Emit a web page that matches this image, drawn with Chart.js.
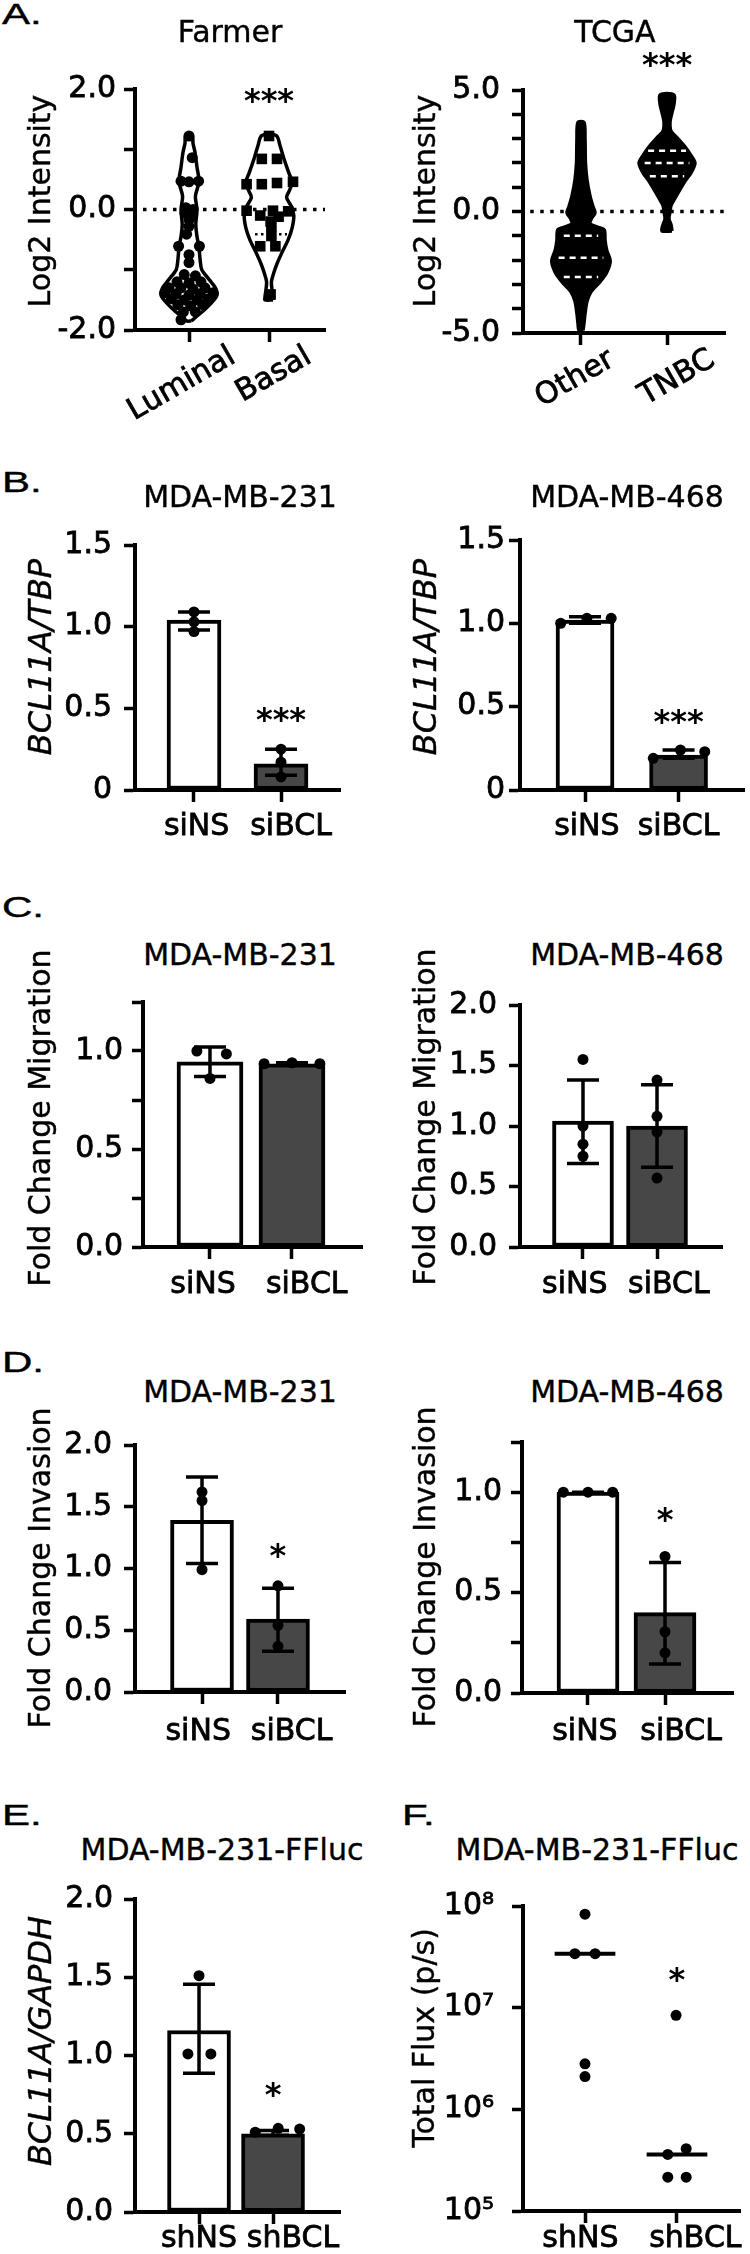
<!DOCTYPE html>
<html>
<head>
<meta charset="utf-8">
<title>BCL11A panels</title>
<script src="https://cdn.jsdelivr.net/npm/chart.js@4.4.1/dist/chart.umd.min.js"></script>
<style>
  html, body { margin: 0; padding: 0; background: #fff; }
  body { position: relative; width: 750px; height: 2254px; overflow: hidden; font-family: "DejaVu Sans", sans-serif; color: #000; }
  canvas { position: absolute; }
  .title, .ytitle, .letter { -webkit-text-stroke: 0.4px #000; }
  .title { position: absolute; width: 360px; height: 40px; line-height: 40px; font-size: 30px; text-align: center; white-space: nowrap; }
  .ytitle { position: absolute; width: 400px; height: 40px; line-height: 40px; font-size: 30px; text-align: center; white-space: nowrap; transform: rotate(-90deg); }
  .ytitle.it { font-style: italic; font-size: 32px; }
  .letter { position: absolute; height: 40px; line-height: 40px; font-family: "Liberation Sans", sans-serif; font-size: 29px; transform: scaleX(1.45); transform-origin: 0 50%; white-space: nowrap; }
</style>
</head>
<body>
<script>
const FONT = "'DejaVu Sans', sans-serif";

// ---------- A. violin plots (Log2 intensity) ----------
const farmerGroups = ['Luminal', 'Basal'];
const farmerTicks = [-2, -1, 0, 1, 2];
const farmerTickText = ['-2.0', '', '0.0', '', '2.0'];
// outline: value, half width (category units)
const luminalY    = [-1.85, -1.78, -1.68, -1.55, -1.42, -1.3, -1.16, -1.0, -0.85, -0.63, -0.45, -0.25, 0.0, 0.22, 0.46, 0.7, 0.95, 1.1, 1.23];
const luminalHalf = [0.03, 0.09, 0.18, 0.28, 0.35, 0.33, 0.25, 0.16, 0.14, 0.125, 0.1, 0.085, 0.1, 0.08, 0.125, 0.1, 0.075, 0.05, 0.04];
const basalY      = [-1.5, -1.45, -1.35, -1.2, -1.05, -0.9, -0.72, -0.5, -0.3, -0.1, 0.05, 0.2, 0.3, 0.45, 0.6, 0.83, 1.05, 1.23];
const basalHalf   = [0.05, 0.05, 0.04, 0.03, 0.06, 0.1, 0.16, 0.24, 0.29, 0.31, 0.28, 0.22, 0.25, 0.29, 0.25, 0.19, 0.14, 0.09];
const luminalVals = [1.22, 0.86, 0.47, 0.46, 0.47, 0.03, 0.0, -0.06, -0.12, -0.17, -0.28, -0.41, -0.61, -0.61, -0.75, -0.88, -1.08, -1.1,
  -1.2, -1.22, -1.2, -1.3, -1.3, -1.32, -1.3, -1.38, -1.4, -1.42, -1.4, -1.38, -1.48, -1.5, -1.5, -1.48, -1.58, -1.6, -1.58, -1.7, -1.7, -1.83];
const luminalSpread = [0, 0.04, -0.1, 0, 0.12, -0.04, 0.05, -0.05, 0.04, 0, 0, -0.03, -0.13, 0.13, 0, 0, -0.06, 0.08,
  -0.15, 0, 0.15, -0.25, -0.1, 0.05, 0.2, -0.3, -0.16, 0, 0.14, 0.3, -0.22, -0.06, 0.1, 0.24, -0.14, 0.02, 0.17, -0.07, 0.08, -0.1];
const basalVals   = [1.22, 0.84, 0.84, 0.42, 0.42, 0.44, 0.46, -0.02, -0.1, -0.02, -0.12, -0.03, -0.2, -0.28, -0.44, -0.61, -0.61, -1.41];
const basalSpread = [0, -0.09, 0.1, -0.28, -0.09, 0.1, 0.3, -0.28, -0.11, 0.05, 0.12, 0.24, 0.02, 0.03, 0.03, -0.11, 0.08, 0.02];
const basalQuartile = -0.41;

const tcgaGroups = ['Other', 'TNBC'];
const tcgaTicks = [-5, -4, -3, -2, -1, 0, 1, 2, 3, 4, 5];
const tcgaTickText = ['-5.0', '', '', '', '', '0.0', '', '', '', '', '5.0'];
const otherY    = [-4.9, -4.6, -4.2, -3.7, -3.3, -2.9, -2.5, -2.04, -1.6, -1.2, -0.75, -0.65, -0.5, -0.3, -0.05, 0.2, 0.63, 1.3, 2.0, 3.0, 3.66];
const otherHalf = [0.023, 0.035, 0.047, 0.07, 0.116, 0.22, 0.3, 0.34, 0.3, 0.28, 0.27, 0.2, 0.105, 0.12, 0.163, 0.14, 0.105, 0.07, 0.052, 0.047, 0.035];
const tnbcY     = [-0.8, -0.55, -0.3, 0.0, 0.25, 0.55, 0.9, 1.3, 1.6, 2.0, 2.3, 2.7, 3.04, 3.3, 3.7, 4.07, 4.4, 4.8];
const tnbcHalf  = [0.058, 0.047, 0.023, 0.035, 0.047, 0.093, 0.15, 0.22, 0.28, 0.325, 0.28, 0.2, 0.116, 0.047, 0.035, 0.058, 0.08, 0.08];
const otherQuart = [-1.0, -1.9, -2.7], otherQuartHalf = [0.2, 0.26, 0.2];
const tnbcQuart  = [2.5, 2.0, 1.45],  tnbcQuartHalf  = [0.22, 0.26, 0.2];

// ---------- B-E. bar plots (mean, SD, replicates) ----------
const siGroups = ['siNS', 'siBCL'];
const shGroups = ['shNS', 'shBCL'];
const halfTicks = [0, 0.5, 1, 1.5];
const halfTickText = ['0', '0.5', '1.0', '1.5'];
const quarterTicks = [0, 0.25, 0.5, 0.75, 1, 1.25];
const quarterTickText = ['0.0', '', '0.5', '', '1.0', ''];
const twoTicks = [0, 0.5, 1, 1.5, 2];
const twoTickText = ['0.0', '0.5', '1.0', '1.5', '2.0'];

// B. BCL11A/TBP
const kd231Mean = [1.04, 0.16], kd231Hi = [1.09, 0.25], kd231Lo = [0.98, 0.09];
const kd231Pts = [[1.09, 1.03, 0.97], [0.25, 0.17, 0.08]];
const kd231Spread = [[0, 0, 0], [0, 0, 0]];
const kd468Mean = [1.02, 0.21], kd468Hi = [1.04, 0.24], kd468Lo = [1.0, 0.19];
const kd468Pts = [[1.0, 1.03, 1.03], [0.19, 0.24, 0.23]];
const kd468Spread = [[-0.26, 0.02, 0.28], [-0.27, 0.02, 0.28]];
// C. migration
const mig231Mean = [0.945, 0.935], mig231Hi = [1.02, 0.94], mig231Lo = [0.87, 0.93];
const mig231Pts = [[1.0, 0.985, 0.86], [0.935, 0.94, 0.935]];
const mig231Spread = [[-0.16, 0.2, 0], [-0.34, 0, 0.34]];
const mig468Mean = [1.04, 1.0], mig468Hi = [1.38, 1.34], mig468Lo = [0.69, 0.66];
const mig468Pts = [[1.55, 1.0, 0.85, 0.75], [1.38, 1.08, 0.95, 0.57]];
const mig468Spread = [[0, 0, 0, 0], [0, 0, 0, 0]];
// D. invasion
const inv231Mean = [1.39, 0.59], inv231Hi = [1.74, 0.84], inv231Lo = [1.04, 0.33];
const inv231Pts = [[1.62, 1.55, 0.99], [0.86, 0.54, 0.37]];
const inv231Spread = [[0, 0, 0], [0, 0, 0]];
const inv468Mean = [1.0, 0.40], inv468Hi = [1.0, 0.65], inv468Lo = [1.0, 0.145];
const inv468Pts = [[1, 1, 1], [0.68, 0.305, 0.2]];
const inv468Spread = [[-0.32, 0, 0.32], [0, 0, 0]];
// E. BCL11A/GAPDH
const ffMean = [1.16, 0.50], ffHi = [1.455, 0.52], ffLo = [0.886, 0.49];
const ffPts = [[1.51, 1.01, 1.01], [0.51, 0.535, 0.53]];
const ffSpread = [[0, -0.15, 0.16], [-0.24, 0.07, 0.36]];
// F. total flux
const fluxTicks = [1e5, 1e6, 1e7, 1e8];
const fluxTickText = ['10\u2075', '10\u2076', '10\u2077', '10\u2078'];
const fluxPts = [[8.3e7, 3.4e7, 3.4e7, 2.8e6, 2.1e6], [8.4e6, 4.1e5, 3.6e5, 2.15e5, 2.15e5]];
const fluxSpread = [[0, -0.11, 0.11, 0, 0], [-0.01, 0.1, -0.1, -0.1, 0.1]];
const fluxMedian = [3.4e7, 3.6e5];

// error bars drawn through the chart scales
const errPlugin = {
  id: 'errbars',
  afterDatasetsDraw(chart, args, opts) {
    if (!opts.hi) return;
    const ctx = chart.ctx, xs = chart.scales.x, ys = chart.scales.y;
    ctx.save();
    ctx.strokeStyle = '#000';
    ctx.lineWidth = 3.5;
    opts.hi.forEach((hi, i) => {
      const px = xs.getPixelForValue(i);
      const top = ys.getPixelForValue(hi);
      const bot = ys.getPixelForValue(opts.lo[i]);
      ctx.beginPath();
      ctx.moveTo(px, top); ctx.lineTo(px, bot);
      ctx.moveTo(px - 16, top); ctx.lineTo(px + 16, top);
      ctx.moveTo(px - 16, bot); ctx.lineTo(px + 16, bot);
      ctx.stroke();
    });
    ctx.restore();
  }
};

// significance asterisks
const starPlugin = {
  id: 'stars',
  afterDatasetsDraw(chart, args, opts) {
    if (!opts.text) return;
    const ctx = chart.ctx, xs = chart.scales.x, ys = chart.scales.y;
    ctx.save();
    ctx.font = 'bold 32px ' + FONT;
    ctx.fillStyle = '#000';
    ctx.textAlign = 'center';
    ctx.textBaseline = 'alphabetic';
    opts.text.forEach((t, i) => {
      if (t) ctx.fillText(t, xs.getPixelForValue(i), ys.getPixelForValue(opts.at[i]) + 15);
    });
    ctx.restore();
  }
};

const tickGrid = len => ({ display: true, offset: false, drawOnChartArea: false, drawTicks: true, tickLength: len, tickWidth: 3.5, tickColor: '#000', color: '#000' });
const axisBorder = { display: true, color: '#000', width: 4 };

function panel(p) {
  const cv = document.createElement('canvas');
  cv.width = p.w; cv.height = p.h;
  cv.style.left = p.left + 'px'; cv.style.top = p.top + 'px';
  document.body.appendChild(cv);
  const [ax0, ay0, ax1, ay1] = p.area;
  const rot = p.rot || 0;
  p.datasets.forEach(d => { d.xAxisID = 'x'; d.yAxisID = 'y'; });
  return new Chart(cv, {
    type: 'scatter',
    data: { datasets: p.datasets },
    options: {
      responsive: false,
      animation: false,
      events: [],
      layout: { padding: { left: 0, top: ay0 - p.top, right: p.left + p.w - ax1, bottom: 0 } },
      plugins: {
        legend: { display: false },
        tooltip: { enabled: false },
        errbars: p.err || false,
        stars: p.stars || false
      },
      scales: {
        x: {
          type: 'linear', position: 'bottom', weight: 0, offset: false, bounds: 'data', min: p.xMin, max: p.xMax,
          afterFit: s => { s.height = 12; },
          afterBuildTicks: s => { s.ticks = p.groups.map((g, i) => ({ value: i })); },
          border: axisBorder,
          grid: tickGrid(12),
          ticks: { display: false }
        },
        xl: {
          type: 'linear', axis: 'x', position: 'bottom', weight: 1, offset: false, bounds: 'data', min: p.xMin, max: p.xMax,
          afterFit: s => { s.height = p.top + p.h - ay1 - 12; },
          afterBuildTicks: s => { s.ticks = p.labelAt.map(v => ({ value: v })); },
          border: { display: false },
          grid: { display: false, offset: false, drawTicks: false },
          ticks: {
            autoSkip: false, minRotation: rot, maxRotation: rot, padding: p.labelPad,
            color: '#000', textStrokeColor: '#000', textStrokeWidth: 0.8, font: { family: FONT, size: 30 },
            callback: (v, i) => p.groups[i]
          }
        },
        y: {
          type: p.yType || 'linear', position: 'left', min: p.yMin, max: p.yMax,
          afterFit: s => { s.width = ax0 - p.left; },
          afterBuildTicks: s => { s.ticks = p.yTicks.map(v => ({ value: v })); },
          border: axisBorder,
          grid: tickGrid(11),
          ticks: {
            autoSkip: false, padding: p.yPad, color: '#000', textStrokeColor: '#000', textStrokeWidth: 0.8,
            font: { family: FONT, size: 30 },
            callback: (v, i) => p.yText[i]
          }
        }
      }
    },
    plugins: [errPlugin, starPlugin]
  });
}

function violin(center, ys, halfs, fill) {
  const right = ys.map((v, k) => ({ x: center + halfs[k], y: v }));
  const left = ys.map((v, k) => ({ x: center - halfs[k], y: v })).reverse();
  const pts = right.concat(left, [right[0]]);
  return { type: 'line', data: pts, borderColor: '#000', borderWidth: 3.5, backgroundColor: fill,
           fill: 'shape', tension: 0.3, pointRadius: 0, order: 5, clip: false };
}
function hline(y, x0, x1, color, dash, width, order) {
  return { type: 'line', data: [{ x: x0, y: y }, { x: x1, y: y }], borderColor: color, borderWidth: width,
           borderDash: dash, pointRadius: 0, order: order, clip: false };
}
function dots(vals, spread, group, style, r) {
  return { type: 'scatter', data: vals.map((v, k) => ({ x: group + spread[k], y: v })), pointStyle: style,
           pointRadius: r, backgroundColor: '#000', borderColor: '#000', borderWidth: 0, order: 2, clip: false };
}
function bars(means, thick) {
  return { type: 'bar', data: means.map((m, i) => ({ x: i, y: m })), backgroundColor: ['#fff', '#474747'],
           borderColor: '#000', borderWidth: 4, borderSkipped: false, barThickness: thick, grouped: false, order: 3, clip: false };
}
function replicates(pts, spread) {
  return pts.map((vals, g) => dots(vals, spread[g], g, 'circle', 5.5));
}

// ---------- A ----------
panel({
  left: 0, top: 40, w: 375, h: 400, area: [135, 89, 325, 330],
  xMin: -0.675, xMax: 1.7, groups: farmerGroups, labelAt: [0.55, 1.5], labelPad: -3, rot: 30,
  yMin: -2, yMax: 2, yTicks: farmerTicks, yText: farmerTickText, yPad: 8,
  stars: { text: ['', '***'], at: [null, 1.88] },
  datasets: [
    violin(0, luminalY, luminalHalf, '#fff'),
    violin(1, basalY, basalHalf, '#fff'),
    hline(0, -0.575, 1.7, '#000', [3.5, 6.5], 3.5, 3),
    hline(basalQuartile, 0.825, 1.225, '#000', [2.5, 3.5], 2.5, 3),
    dots(luminalVals, luminalSpread, 0, 'circle', 5.5),
    dots(basalVals, basalSpread, 1, 'rect', 7.5)
  ]
});
panel({
  left: 375, top: 40, w: 375, h: 400, area: [523, 90, 725, 333],
  xMin: -0.674, xMax: 1.674, groups: tcgaGroups, labelAt: [0.36, 1.53], labelPad: -3, rot: 30,
  yMin: -5, yMax: 5, yTicks: tcgaTicks, yText: tcgaTickText, yPad: 12,
  stars: { text: ['', '***'], at: [null, 6.25] },
  datasets: [
    hline(0, -0.59, 1.674, '#000', [3.5, 6.5], 3.5, 6),
    violin(0, otherY, otherHalf, '#000'),
    violin(1, tnbcY, tnbcHalf, '#000')
  ].concat(
    otherQuart.map((q, k) => hline(q, -otherQuartHalf[k], otherQuartHalf[k], '#fff', [6, 5], 2.5, 0)),
    tnbcQuart.map((q, k) => hline(q, 1 - tnbcQuartHalf[k], 1 + tnbcQuartHalf[k], '#fff', [6, 5], 2.5, 0))
  )
});

// ---------- B ----------
panel({
  left: 0, top: 515, w: 375, h: 340, area: [135, 540, 340, 790],
  xMin: -0.678, xMax: 1.678, groups: siGroups, labelAt: [0.03, 1.115], labelPad: 7,
  yMin: 0, yMax: 1.5, yTicks: halfTicks, yText: halfTickText, yPad: 12,
  err: { hi: kd231Hi, lo: kd231Lo }, stars: { text: ['', '***'], at: [null, 0.46] },
  datasets: [bars(kd231Mean, 54)].concat(replicates(kd231Pts, kd231Spread))
});
panel({
  left: 375, top: 515, w: 375, h: 340, area: [520, 540, 748, 790],
  xMin: -0.695, xMax: 1.705, groups: siGroups, labelAt: [0.02, 1.0], labelPad: 7,
  yMin: 0, yMax: 1.5, yTicks: halfTicks, yText: halfTickText, yPad: 4,
  err: { hi: kd468Hi, lo: kd468Lo }, stars: { text: ['', '***'], at: [null, 0.44] },
  datasets: [bars(kd468Mean, 58)].concat(replicates(kd468Pts, kd468Spread))
});

// ---------- C ----------
panel({
  left: 0, top: 975, w: 375, h: 340, area: [143, 995, 362, 1247],
  xMin: -0.817, xMax: 1.854, groups: siGroups, labelAt: [-0.085, 1.18], labelPad: 8,
  yMin: 0, yMax: 1.25, yTicks: quarterTicks, yText: quarterTickText, yPad: 9,
  err: { hi: mig231Hi, lo: mig231Lo },
  datasets: [bars(mig231Mean, 66)].concat(replicates(mig231Pts, mig231Spread))
});
panel({
  left: 375, top: 975, w: 375, h: 340, area: [520, 995, 722, 1247],
  xMin: -0.851, xMax: 1.878, groups: siGroups, labelAt: [-0.11, 1.16], labelPad: 8,
  yMin: 0, yMax: 2, yTicks: twoTicks, yText: twoTickText, yPad: 12,
  err: { hi: mig468Hi, lo: mig468Lo },
  datasets: [bars(mig468Mean, 61)].concat(replicates(mig468Pts, mig468Spread))
});

// ---------- D ----------
panel({
  left: 0, top: 1415, w: 375, h: 345, area: [135, 1438, 345, 1692],
  xMin: -0.882, xMax: 1.882, groups: siGroups, labelAt: [-0.05, 1.18], labelPad: 10,
  yMin: 0, yMax: 2, yTicks: twoTicks, yText: twoTickText, yPad: 12,
  err: { hi: inv231Hi, lo: inv231Lo }, stars: { text: ['', '*'], at: [null, 1.14] },
  datasets: [bars(inv231Mean, 63)].concat(replicates(inv231Pts, inv231Spread))
});
panel({
  left: 375, top: 1415, w: 375, h: 345, area: [522, 1442, 733, 1693],
  xMin: -0.857, xMax: 1.883, groups: siGroups, labelAt: [-0.04, 1.21], labelPad: 9,
  yMin: 0, yMax: 1.25, yTicks: quarterTicks, yText: quarterTickText, yPad: 9,
  err: { hi: inv468Hi, lo: inv468Lo }, stars: { text: ['', '*'], at: [null, 0.885] },
  datasets: [bars(inv468Mean, 62)].concat(replicates(inv468Pts, inv468Spread))
});

// ---------- E ----------
panel({
  left: 0, top: 1870, w: 375, h: 384, area: [135, 1893, 340, 2212],
  xMin: -0.865, xMax: 1.905, groups: shGroups, labelAt: [0, 1.27], labelPad: -3,
  yMin: 0, yMax: 2, yTicks: twoTicks, yText: twoTickText, yPad: 11,
  err: { hi: ffHi, lo: ffLo }, stars: { text: ['', '*'], at: [null, 0.78] },
  datasets: [bars(ffMean, 63)].concat(replicates(ffPts, ffSpread))
});

// ---------- F ----------
panel({
  left: 375, top: 1870, w: 375, h: 384, area: [523, 1894, 740, 2211],
  xMin: -0.674, xMax: 1.685, groups: shGroups, labelAt: [-0.05, 1.2], labelPad: -2,
  yType: 'logarithmic', yMin: 1e5, yMax: 1e8, yTicks: fluxTicks, yText: fluxTickText, yPad: 18,
  stars: { text: ['', '*'], at: [null, 2.1e7] },
  datasets: replicates(fluxPts, fluxSpread).concat(
    fluxMedian.map((m, g) => hline(m, g - 0.33, g + 0.33, '#000', [], 4, 1))
  )
});

// ---------- text: panel letters, titles, axis titles ----------
function addText(cls, text, left, top) {
  const d = document.createElement('div');
  d.className = cls;
  d.textContent = text;
  d.style.left = left + 'px';
  d.style.top = top + 'px';
  document.body.appendChild(d);
}
[['A.', 2, 14], ['B.', 2, 482], ['C.', 2, 907], ['D.', 2, 1362], ['E.', 2, 1815], ['F.', 402, 1815]]
  .forEach(([t, x, y]) => addText('letter', t, x, y - 20));
[['Farmer', 230, 32], ['TCGA', 615, 32],
 ['MDA-MB-231', 240, 497], ['MDA-MB-468', 627, 497],
 ['MDA-MB-231', 240, 955], ['MDA-MB-468', 627, 955],
 ['MDA-MB-231', 240, 1392], ['MDA-MB-468', 627, 1392],
 ['MDA-MB-231-FFluc', 222, 1850], ['MDA-MB-231-FFluc', 597, 1850]]
  .forEach(([t, x, y]) => addText('title', t, x - 180, y - 20));
[['Log2 Intensity', 40, 201, ''], ['Log2 Intensity', 425, 201, ''],
 ['BCL11A/TBP', 40, 657, ' it'], ['BCL11A/TBP', 425, 657, ' it'],
 ['Fold Change Migration', 40, 1118, ''], ['Fold Change Migration', 425, 1117, ''],
 ['Fold Change Invasion', 40, 1568, ''], ['Fold Change Invasion', 425, 1567, ''],
 ['BCL11A/GAPDH', 40, 2041, ' it'], ['Total Flux (p/s)', 424, 2038, '']]
  .forEach(([t, x, y, c]) => addText('ytitle' + c, t, x - 200, y - 20));
</script>
</body>
</html>
